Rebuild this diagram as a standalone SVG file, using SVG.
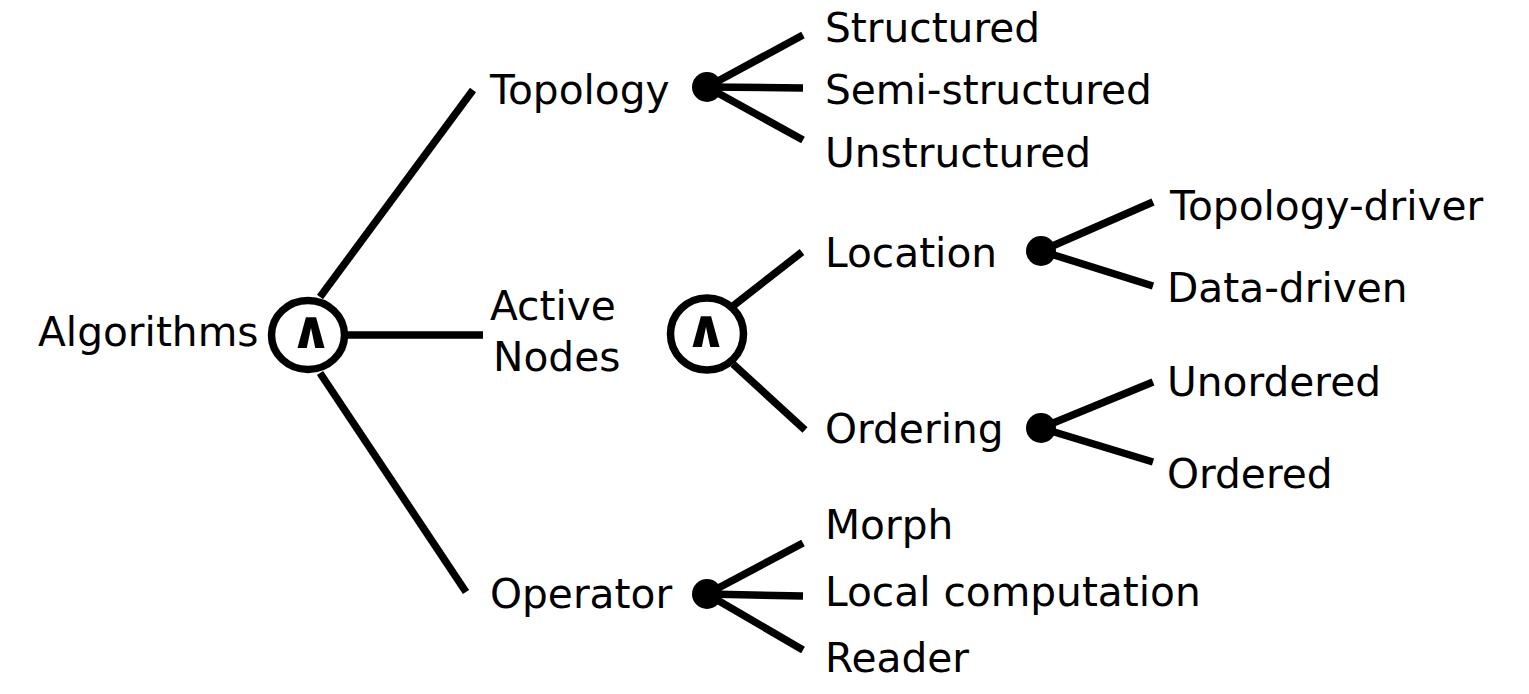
<svg xmlns="http://www.w3.org/2000/svg" width="1529" height="694" viewBox="0 0 1529 694">
<style>
text{font-family:"DejaVu Sans",sans-serif;font-size:40.7px;fill:#000}
.and{font-family:"DejaVu Sans",sans-serif;font-weight:bold;font-size:53px;text-anchor:middle}
.c{stroke:#000;stroke-width:7.5;fill:none}
.ring{stroke:#000;stroke-width:7.5;fill:#fff}
.dot{fill:#000}
</style>
<rect width="1529" height="694" fill="#fff"/>
<g id="connectors" class="c">
<line x1="320" y1="297" x2="473" y2="90"/>
<line x1="345" y1="335" x2="483" y2="335"/>
<line x1="320" y1="373" x2="466" y2="592"/>
<line x1="707" y1="87" x2="803" y2="35"/>
<line x1="707" y1="87" x2="803" y2="88"/>
<line x1="707" y1="87" x2="803" y2="140"/>
<line x1="733" y1="306" x2="802" y2="252"/>
<line x1="733" y1="364" x2="805" y2="430"/>
<line x1="1041" y1="251" x2="1153" y2="202"/>
<line x1="1041" y1="251" x2="1153" y2="286"/>
<line x1="1041" y1="428" x2="1153" y2="382"/>
<line x1="1041" y1="428" x2="1153" y2="462"/>
<line x1="707" y1="594" x2="803" y2="543"/>
<line x1="707" y1="594" x2="803" y2="596"/>
<line x1="707" y1="594" x2="803" y2="650"/>
</g>
<g id="algorithms"><text x="38" y="346">Algorithms</text></g>
<g id="and1"><ellipse class="ring" cx="308" cy="335" rx="36.5" ry="34.5"/><text class="and" x="311" y="348">∧</text></g>
<g id="topology"><text x="490" y="104">Topology</text><circle class="dot" cx="707" cy="87" r="15"/></g>
<g id="structured"><text x="825" y="42">Structured</text></g>
<g id="semi"><text x="825" y="104">Semi-structured</text></g>
<g id="unstructured"><text x="825" y="167">Unstructured</text></g>
<g id="active"><text x="490" y="320">Active</text><text x="493" y="371">Nodes</text></g>
<g id="and2"><ellipse class="ring" cx="707" cy="334" rx="36.5" ry="36"/><text class="and" x="706" y="347">∧</text></g>
<g id="location"><text x="825" y="267">Location</text><circle class="dot" cx="1041" cy="251" r="15"/></g>
<g id="topodriver"><text x="1170" y="220">Topology-driver</text></g>
<g id="datadriven"><text x="1167" y="302">Data-driven</text></g>
<g id="ordering"><text x="825" y="443">Ordering</text><circle class="dot" cx="1041" cy="428" r="15"/></g>
<g id="unordered"><text x="1167" y="396">Unordered</text></g>
<g id="ordered"><text x="1167" y="488">Ordered</text></g>
<g id="operator"><text x="490" y="608">Operator</text><circle class="dot" cx="707" cy="594" r="15"/></g>
<g id="morph"><text x="825" y="539">Morph</text></g>
<g id="local"><text x="825" y="606">Local computation</text></g>
<g id="reader"><text x="825" y="672">Reader</text></g>
</svg>
